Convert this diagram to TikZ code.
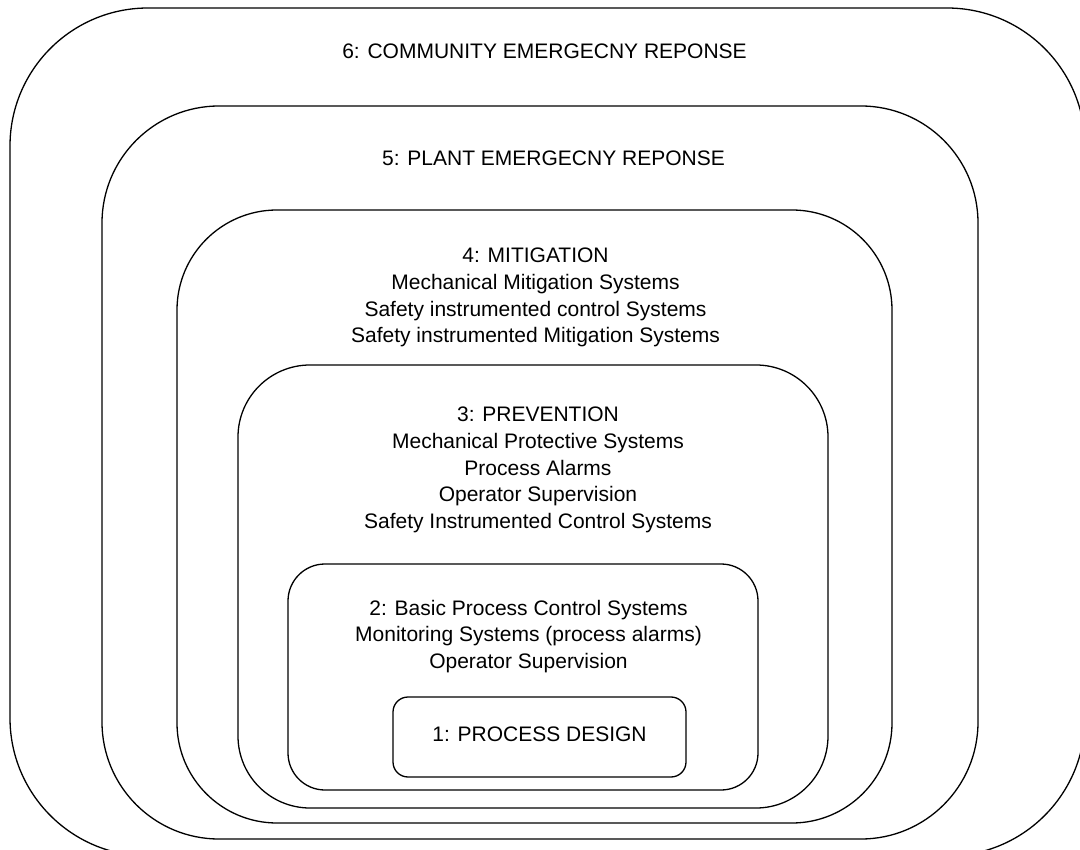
\documentclass[tikz,border=0pt]{standalone}
\usepackage{fontspec}
\setmainfont{Liberation Sans}
\begin{document}
\begin{tikzpicture}[x=1pt,y=-1pt,
  layer/.style={draw=black, line width=1.3pt, inner sep=0pt, outer sep=0pt},
  label/.style={inner sep=0pt, align=center, anchor=base, font=\fontsize{21}{26.7}\selectfont}]
\useasboundingbox (0,0) rectangle (1080,850);
% boxes (centre, width, height, corner radius)
\node[layer, minimum width=1075pt, minimum height=848pt, rounded corners=138pt] (b6) at (547.5,432) {};
\node[layer, minimum width=876pt, minimum height=733pt, rounded corners=117pt] (b5) at (540,472.5) {};
\node[layer, minimum width=715pt, minimum height=613pt, rounded corners=100pt] (b4) at (534.5,516.5) {};
\node[layer, minimum width=590pt, minimum height=443pt, rounded corners=72pt] (b3) at (533,586.5) {};
\node[layer, minimum width=470pt, minimum height=226pt, rounded corners=37pt] (b2) at (523,677) {};
\node[layer, minimum width=293pt, minimum height=80pt, rounded corners=15pt] (b1) at (539.5,737) {};
% texts (anchor = baseline of the last line)
\node[label] (t6) at (544.5,59) {6: COMMUNITY EMERGECNY REPONSE};
\node[label] (t5) at (553.5,166) {5: PLANT EMERGECNY REPONSE};
\node[label] (t4) at (535.5,343) {4: MITIGATION\\Mechanical Mitigation Systems\\Safety instrumented control Systems\\Safety instrumented Mitigation Systems};
\node[label] (t3) at (538,528.5) {3: PREVENTION\\Mechanical Protective Systems\\Process Alarms\\Operator Supervision\\Safety Instrumented Control Systems};
\node[label] (t2) at (528.5,668.5) {2: Basic Process Control Systems\\Monitoring Systems (process alarms)\\Operator Supervision};
\node[label] (t1) at (539.5,741.5) {1: PROCESS DESIGN};
\end{tikzpicture}
\end{document}
